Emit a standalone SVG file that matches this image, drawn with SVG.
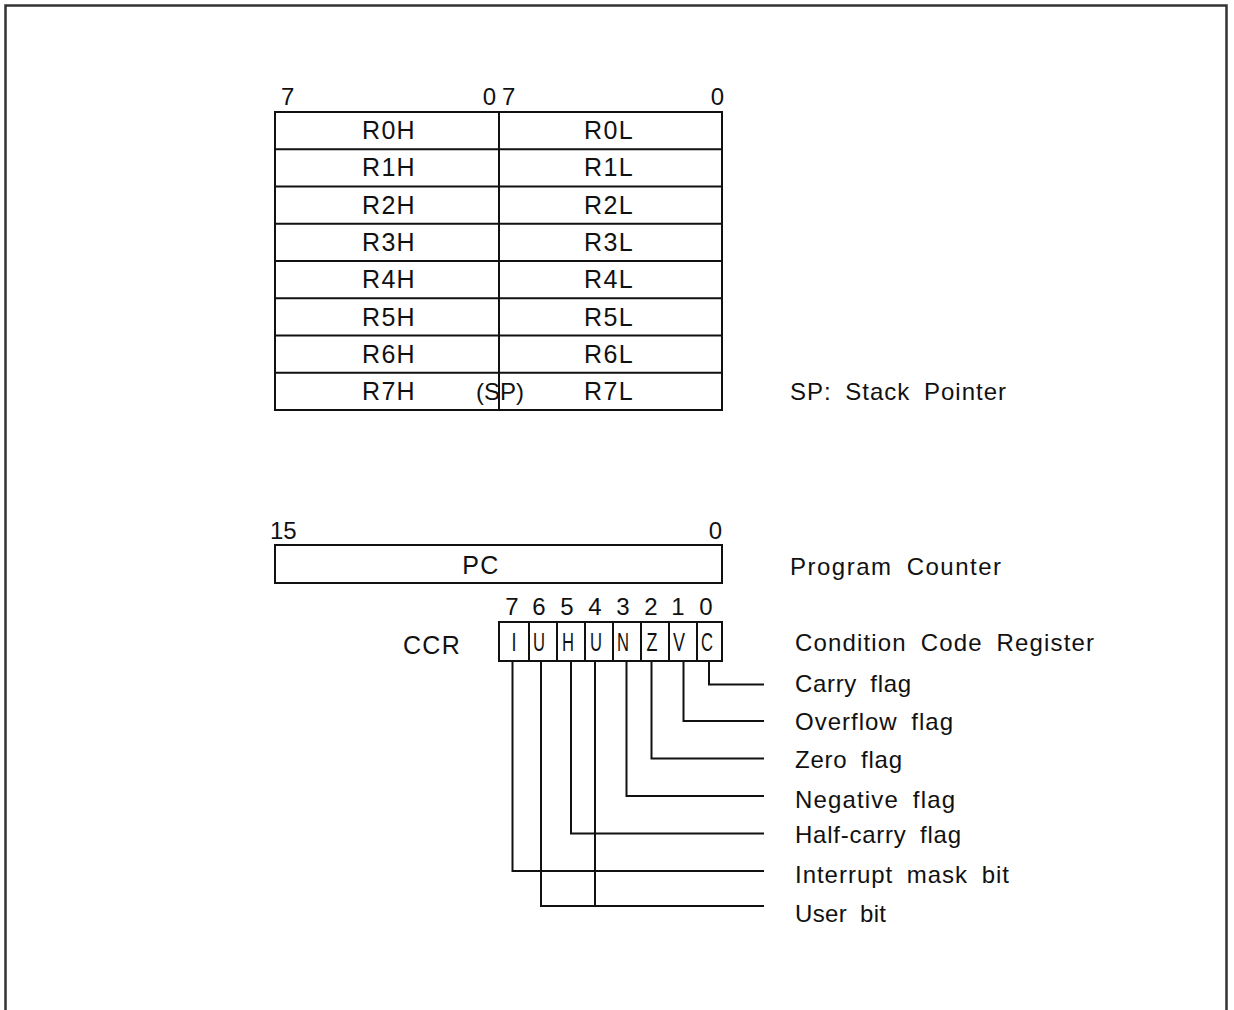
<svg xmlns="http://www.w3.org/2000/svg" width="1234" height="1010" viewBox="0 0 1234 1010">
<style>
.t{font-family:"Liberation Sans",Arial,sans-serif;font-size:24px;fill:#111;}
.r{font-size:25px;letter-spacing:1.3px;}
.w{word-spacing:6px;}
.m{text-anchor:middle;}
.e{text-anchor:end;}
.n{font-family:"Liberation Sans",Arial,sans-serif;font-size:26px;fill:#111;text-anchor:middle;}
.ln{stroke:#111;stroke-width:2;fill:none;}
</style>
<rect width="1234" height="1010" fill="#fff"/>
<path d="M5.5,1010 V5.5 H1226.5 V1010" fill="none" stroke="#333" stroke-width="2.5"/>

<g id="general-registers">
<rect class="ln" x="275" y="112" width="447" height="298"/>
<path class="ln" d="M499,112 V410 M275,149.3 H722 M275,186.5 H722 M275,223.8 H722 M275,261 H722 M275,298.3 H722 M275,335.5 H722 M275,372.8 H722"/>
<text class="t" x="281" y="105">7</text>
<text class="t e" x="496" y="105">0</text>
<text class="t" x="502" y="105">7</text>
<text class="t e" x="724" y="105">0</text>
<text class="t r m" x="389" y="139">R0H</text><text class="t r m" x="609" y="139">R0L</text>
<text class="t r m" x="389" y="176">R1H</text><text class="t r m" x="609" y="176">R1L</text>
<text class="t r m" x="389" y="214">R2H</text><text class="t r m" x="609" y="214">R2L</text>
<text class="t r m" x="389" y="251">R3H</text><text class="t r m" x="609" y="251">R3L</text>
<text class="t r m" x="389" y="288">R4H</text><text class="t r m" x="609" y="288">R4L</text>
<text class="t r m" x="389" y="326">R5H</text><text class="t r m" x="609" y="326">R5L</text>
<text class="t r m" x="389" y="363">R6H</text><text class="t r m" x="609" y="363">R6L</text>
<text class="t r m" x="389" y="400">R7H</text><text class="t r m" x="609" y="400">R7L</text>
<text class="t m" x="500" y="400">(SP)</text>
<text class="t w" x="790" y="400" textLength="216" lengthAdjust="spacing">SP: Stack Pointer</text>
</g>

<g id="pc">
<rect class="ln" x="275" y="545" width="447" height="38"/>
<text class="t" x="270" y="539">15</text>
<text class="t e" x="722" y="539">0</text>
<text class="t r m" x="481" y="574">PC</text>
<text class="t w" x="790" y="575" textLength="211" lengthAdjust="spacing">Program Counter</text>
</g>

<g id="ccr">
<text class="t r" x="403" y="654">CCR</text>
<rect class="ln" x="499" y="622" width="223" height="39"/>
<path class="ln" d="M529,622 V661 M557,622 V661 M585,622 V661 M613,622 V661 M641,622 V661 M669,622 V661 M697,622 V661"/>
<text class="t m" x="512" y="615">7</text>
<text class="t m" x="539" y="615">6</text>
<text class="t m" x="567" y="615">5</text>
<text class="t m" x="595" y="615">4</text>
<text class="t m" x="623" y="615">3</text>
<text class="t m" x="651" y="615">2</text>
<text class="t m" x="678" y="615">1</text>
<text class="t m" x="706" y="615">0</text>
<text class="n" x="514" y="651" textLength="5" lengthAdjust="spacingAndGlyphs">I</text>
<text class="n" x="539" y="651" textLength="12" lengthAdjust="spacingAndGlyphs">U</text>
<text class="n" x="568" y="651" textLength="12" lengthAdjust="spacingAndGlyphs">H</text>
<text class="n" x="596" y="651" textLength="12" lengthAdjust="spacingAndGlyphs">U</text>
<text class="n" x="623" y="651" textLength="12" lengthAdjust="spacingAndGlyphs">N</text>
<text class="n" x="652" y="651" textLength="11" lengthAdjust="spacingAndGlyphs">Z</text>
<text class="n" x="679" y="651" textLength="12" lengthAdjust="spacingAndGlyphs">V</text>
<text class="n" x="707" y="651" textLength="12" lengthAdjust="spacingAndGlyphs">C</text>
<text class="t w" x="795" y="651" textLength="299" lengthAdjust="spacing">Condition Code Register</text>
</g>

<g id="connectors">
<path class="ln" d="M709,661 V684.5 H764"/>
<path class="ln" d="M683.5,661 V721 H764"/>
<path class="ln" d="M651.5,661 V758.5 H764"/>
<path class="ln" d="M626.5,661 V796 H764"/>
<path class="ln" d="M571,661 V833.5 H764"/>
<path class="ln" d="M512.5,661 V871 H764"/>
<path class="ln" d="M541,661 V906 H764"/>
<path class="ln" d="M595,661 V906"/>
</g>

<g id="flag-labels">
<text class="t w" x="795" y="692" textLength="116" lengthAdjust="spacing">Carry flag</text>
<text class="t w" x="795" y="730" textLength="158" lengthAdjust="spacing">Overflow flag</text>
<text class="t w" x="795" y="768" textLength="107" lengthAdjust="spacing">Zero flag</text>
<text class="t w" x="795" y="808" textLength="160" lengthAdjust="spacing">Negative flag</text>
<text class="t w" x="795" y="843" textLength="166" lengthAdjust="spacing">Half-carry flag</text>
<text class="t w" x="795" y="883" textLength="214" lengthAdjust="spacing">Interrupt mask bit</text>
<text class="t w" x="795" y="922" textLength="91" lengthAdjust="spacing">User bit</text>
</g>
</svg>
